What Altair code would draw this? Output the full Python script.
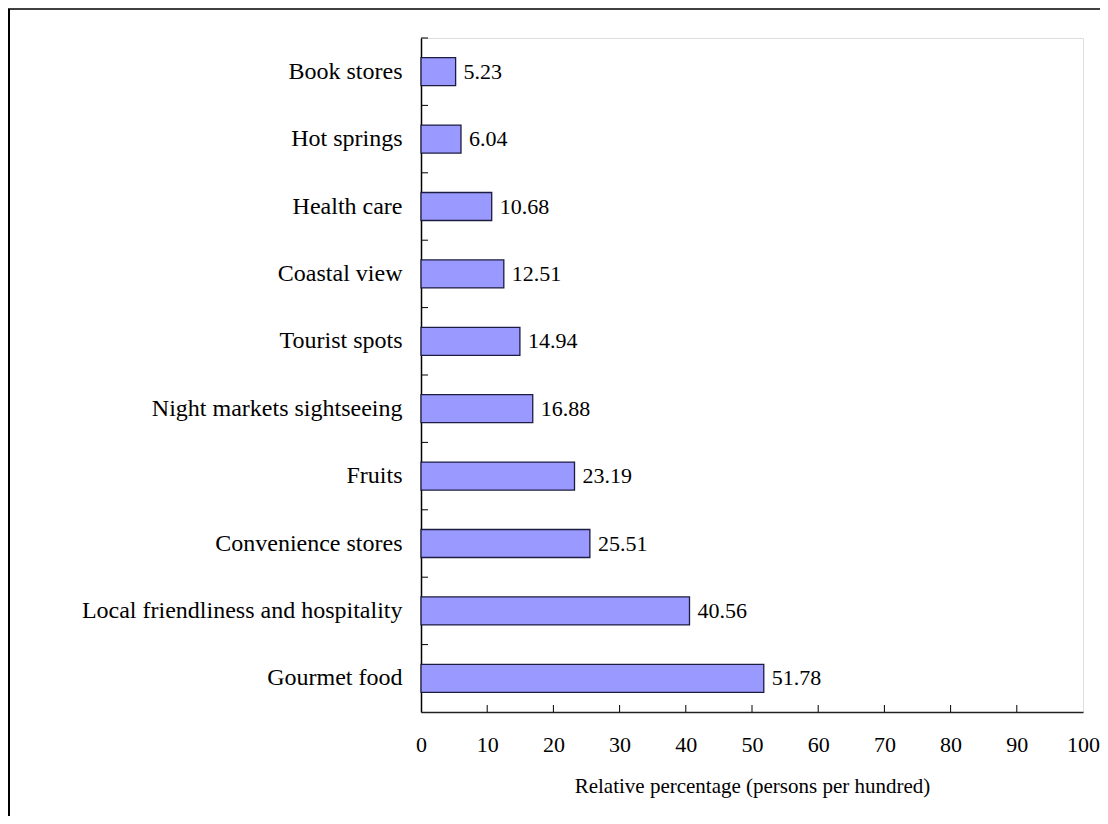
import altair as alt
import pandas as pd

categories = [
    "Book stores",
    "Hot springs",
    "Health care",
    "Coastal view",
    "Tourist spots",
    "Night markets sightseeing",
    "Fruits",
    "Convenience stores",
    "Local friendliness and hospitality",
    "Gourmet food",
]
values = [5.23, 6.04, 10.68, 12.51, 14.94, 16.88, 23.19, 25.51, 40.56, 51.78]
x_ticks = [0, 10, 20, 30, 40, 50, 60, 70, 80, 90, 100]
inner_ticks = [10, 20, 30, 40, 50, 60, 70, 80, 90]
x_title = "Relative percentage (persons per hundred)"

df = pd.DataFrame({"cat": categories, "val": values})
tick_df = pd.DataFrame({"t": inner_ticks})
one = pd.DataFrame({"a": [0]})

FONT = "Liberation Serif"
W, H = 662, 674
PAD_L, PAD_T, PAD_R, PAD_B = 413, 30, 17, 104

yscale = alt.Scale(domain=categories, paddingInner=0, paddingOuter=0)
xscale = alt.Scale(domain=[0, 100], nice=False)

bars = alt.Chart(df).mark_bar(
    height=alt.RelativeBandSize(band=0.415),
    fill="#9999ff",
    stroke="#1c1c40",
    strokeWidth=1.3,
).encode(
    x=alt.X(
        "val:Q",
        scale=xscale,
        axis=alt.Axis(
            values=x_ticks,
            title=x_title,
            ticks=False,
            grid=False,
            domainColor="#222222",
            domainWidth=1.5,
            labelFont=FONT,
            labelFontSize=22,
            labelColor="black",
            labelPadding=22,
            labelFlush=False,
            titleFont=FONT,
            titleFontSize=21,
            titleFontWeight="normal",
            titleColor="black",
            titlePadding=20,
        ),
    ),
    y=alt.Y(
        "cat:N",
        sort=categories,
        scale=yscale,
        axis=alt.Axis(
            title=None,
            ticks=False,
            grid=False,
            domainColor="black",
            domainWidth=1.5,
            labelFont=FONT,
            labelFontSize=24,
            labelColor="black",
            labelPadding=19,
            labelLimit=400,
        ),
    ),
)

labels = alt.Chart(df).mark_text(
    align="left", baseline="middle", dx=8, font=FONT, fontSize=22, color="black"
).encode(
    x=alt.X("val:Q", scale=xscale),
    y=alt.Y("cat:N", sort=categories, scale=yscale),
    text=alt.Text("val:Q", format=".2f"),
)

ytick_rules = alt.Chart(df).mark_rule(color="black", strokeWidth=1).encode(
    y=alt.Y("cat:N", sort=categories, scale=yscale, bandPosition=0),
    x=alt.value(0),
    x2=alt.value(7),
)

xtick_rules = alt.Chart(tick_df).mark_rule(color="black", strokeWidth=1).encode(
    x=alt.X("t:Q", scale=xscale),
    y=alt.value(H),
    y2=alt.value(H - 7),
)

border_left = alt.Chart(one).mark_rule(color="black", strokeWidth=2).encode(
    x=alt.value(-412),
    y=alt.value(-29),
    y2=alt.value(H + PAD_B),
)
border_top = alt.Chart(one).mark_rule(color="black", strokeWidth=1.5).encode(
    x=alt.value(-413),
    x2=alt.value(W + PAD_R),
    y=alt.value(-29),
)

chart = alt.layer(
    bars, labels, ytick_rules, xtick_rules, border_left, border_top
).properties(
    width=W,
    height=H,
    autosize=alt.AutoSizeParams(type="none"),
    padding={"left": PAD_L, "top": PAD_T, "right": PAD_R, "bottom": PAD_B},
).configure_view(
    stroke="#b0b0b0", strokeWidth=1.5
).configure(
    background="white"
)

chart.save("out.html", embed_options={"renderer": "svg", "actions": False})
